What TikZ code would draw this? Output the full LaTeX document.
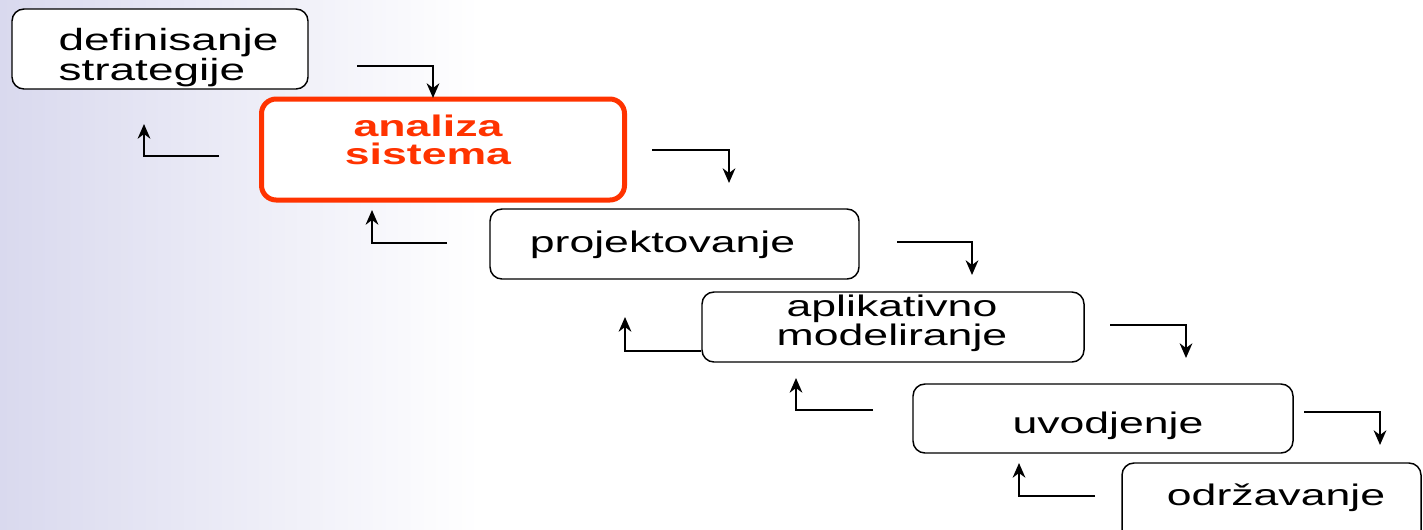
\documentclass[tikz,border=0pt]{standalone}
\usepackage{fontspec}
\newfontfamily\boxfont[FakeStretch=1.5]{Liberation Sans}
\usetikzlibrary{arrows.meta}
\definecolor{activered}{HTML}{FF3300}
\definecolor{bglila}{HTML}{D9D9EE}

\begin{document}
\begin{tikzpicture}[x=0.75pt,y=-0.75pt,
							stepnode/.style={rectangle, rounded corners=9pt, draw=black, line width=1.1pt, fill=white, inner sep=0pt},
							activenode/.style={rectangle, rounded corners=11pt, draw=activered, line width=3.75pt, fill=white, inner sep=0pt},
							steptext/.style={inner sep=0pt, font=\boxfont\fontsize{22.3}{22.5}\selectfont},
							flowarrow/.style={line width=1.6pt, -{Stealth[length=11pt,width=9.5pt,inset=3.5pt]}},
							]
							%Background
							\clip (0,0) rectangle (1423,529);
							\fill[white] (0,0) rectangle (1423,529);
							\shade[left color=bglila, right color=white] (0,0) rectangle (480,529);

							%Nodes
							\node[stepnode, minimum width=222pt, minimum height=60pt]          (n1) 	at	(160,49) 		{};
							\node[activenode, minimum width=272.25pt, minimum height=75.75pt]  (n2) 	at	(443,149.5) 		{};
							\node[stepnode, minimum width=276.75pt, minimum height=52.5pt]     (n3) 	at	(674.5,244) 		{};
							\node[stepnode, minimum width=286.5pt, minimum height=52.5pt]      (n4) 	at	(893,327) 		{};
							\node[stepnode, minimum width=285pt, minimum height=51.75pt]       (n5) 	at	(1103,418.5) 		{};
							\node[stepnode, minimum width=224.25pt, minimum height=61.5pt]     (n6) 	at	(1271.5,504) 		{};

							%Texts
							\node[steptext, align=left, font=\boxfont\fontsize{23}{22.5}\selectfont]      (t1) 	at	(168.5,57.4) 		{definisanje\\strategije};
							\node[steptext, align=center, text=activered, font=\boxfont\bfseries\fontsize{22.3}{21}\selectfont]      (t2) 	at	(428,140.3) 		{analiza\\sistema};
							\node[steptext]      (t3) 	at	(662.5,244.5) 		{projektovanje};
							\node[steptext, align=center, font=\boxfont\fontsize{22.3}{20.25}\selectfont]      (t4) 	at	(892,323) 		{aplikativno\\modeliranje};
							\node[steptext]      (t5) 	at	(1108,425.5) 		{uvodjenje};
							\node[steptext]      (t6) 	at	(1276,497.5) 		{održavanje};

							%Arrows down
							\coordinate (d1) at (357,66);		\coordinate (d1e) at (433,98);
							\coordinate (d2) at (652,150);		\coordinate (d2e) at (729,183);
							\coordinate (d3) at (897,242);		\coordinate (d3e) at (972,275);
							\coordinate (d4) at (1110,325);		\coordinate (d4e) at (1186,358);
							\coordinate (d5) at (1304,412);		\coordinate (d5e) at (1380,445);
							\draw[flowarrow] (d1) -| (d1e);
							\draw[flowarrow] (d2) -| (d2e);
							\draw[flowarrow] (d3) -| (d3e);
							\draw[flowarrow] (d4) -| (d4e);
							\draw[flowarrow] (d5) -| (d5e);

							%Arrows up
							\coordinate (u1) at (219,156);		\coordinate (u1e) at (144,124);
							\coordinate (u2) at (447,243);		\coordinate (u2e) at (372,210);
							\coordinate (u3) at (n4.west |- 0,351);		\coordinate (u3e) at (625,317);
							\coordinate (u4) at (873,410);		\coordinate (u4e) at (796,378);
							\coordinate (u5) at (1095,496);		\coordinate (u5e) at (1019,463);
							\draw[flowarrow] (u1) -| (u1e);
							\draw[flowarrow] (u2) -| (u2e);
							\draw[flowarrow] (u3) -| (u3e);
							\draw[flowarrow] (u4) -| (u4e);
							\draw[flowarrow] (u5) -| (u5e);
						\end{tikzpicture}
\end{document}
